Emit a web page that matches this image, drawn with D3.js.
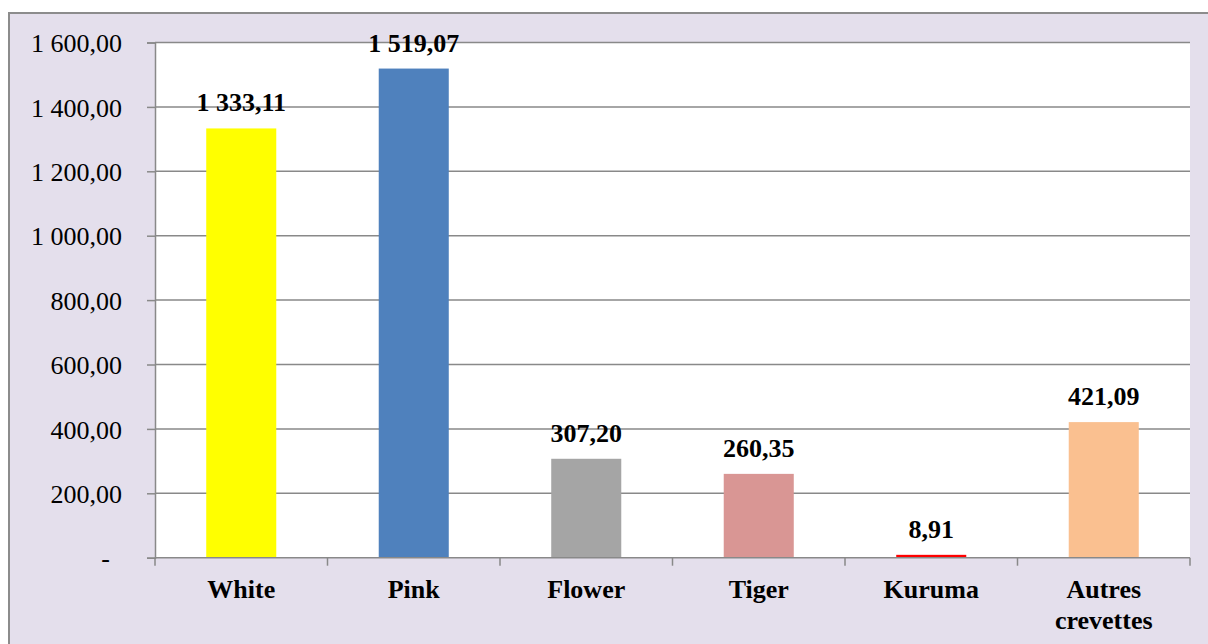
<!DOCTYPE html>
<html>
<head>
<meta charset="utf-8">
<script src="https://cdn.jsdelivr.net/npm/d3@7"></script>
<style>
  html, body { margin: 0; padding: 0; background: #ffffff; }
  svg { display: block; }
  text { font-family: "Liberation Serif", "Times New Roman", serif; fill: #000; }
</style>
</head>
<body>
<svg id="chart" width="1208" height="644"></svg>
<script>
// ---- data ----
const categories = ["White", "Pink", "Flower", "Tiger", "Kuruma", "Autres crevettes"];
const values = [1333.11, 1519.07, 307.20, 260.35, 8.91, 421.09];
const valueLabels = ["1 333,11", "1 519,07", "307,20", "260,35", "8,91", "421,09"];
const barColors = ["#FFFF00", "#4F81BD", "#A5A5A5", "#D99694", "#FF0000", "#FAC090"];
const yTicks = [0, 200, 400, 600, 800, 1000, 1200, 1400, 1600];
const yTickLabels = ["-", "200,00", "400,00", "600,00", "800,00", "1 000,00", "1 200,00", "1 400,00", "1 600,00"];

// ---- layout ----
const W = 1208, H = 644;
const plot = { left: 155, right: 1190, top: 42.5, bottom: 557.7 };
const gridColor = "#898989";

const svg = d3.select("#chart");

// outer frame
svg.append("rect")
  .attr("x", 9).attr("y", 13)
  .attr("width", W + 20).attr("height", H + 20)
  .attr("fill", "#E4DFEC")
  .attr("stroke", "#8C8C8C").attr("stroke-width", 2);

// plot area
svg.append("rect")
  .attr("x", plot.left).attr("y", plot.top)
  .attr("width", plot.right - plot.left).attr("height", plot.bottom - plot.top)
  .attr("fill", "#FFFFFF");

const x = d3.scaleBand()
  .domain(categories)
  .range([plot.left, plot.right])
  .paddingInner(0.594)
  .paddingOuter(0.297);

const y = d3.scaleLinear()
  .domain([0, 1600])
  .range([plot.bottom, plot.top]);

// gridlines
svg.append("g")
  .selectAll("line")
  .data(yTicks.filter(d => d > 0))
  .join("line")
  .attr("x1", plot.left).attr("x2", plot.right)
  .attr("y1", d => y(d)).attr("y2", d => y(d))
  .attr("stroke", gridColor).attr("stroke-width", 1.5);

// bars
const data = categories.map((c, i) => ({ c, v: values[i], label: valueLabels[i], color: barColors[i] }));
svg.append("g")
  .selectAll("rect")
  .data(data)
  .join("rect")
  .attr("x", d => x(d.c))
  .attr("y", d => y(d.v))
  .attr("width", x.bandwidth())
  .attr("height", d => y(0) - y(d.v))
  .attr("fill", d => d.color);

// y axis
const yAxis = d3.axisLeft(y)
  .tickValues(yTicks)
  .tickSize(8)
  .tickPadding(25)
  .tickFormat((d, i) => yTickLabels[i]);
const gy = svg.append("g")
  .attr("transform", `translate(${plot.left},0)`)
  .call(yAxis);
gy.select(".domain").attr("stroke", gridColor).attr("stroke-width", 1.5);
gy.selectAll(".tick line").attr("stroke", gridColor).attr("stroke-width", 1.5);
gy.selectAll(".tick text")
  .attr("font-family", "Liberation Serif, Times New Roman, serif")
  .attr("font-size", 26)
  .attr("fill", "#000")
  .attr("dy", "0.35em")
  .attr("dx", (d, i) => i === 0 ? -12 : 0);

// x axis line + boundary ticks
svg.append("line")
  .attr("x1", plot.left).attr("x2", plot.right)
  .attr("y1", plot.bottom).attr("y2", plot.bottom)
  .attr("stroke", gridColor).attr("stroke-width", 1.5);
const boundaries = categories.map(c => x(c) - x.step() * x.paddingInner() / 2).concat([plot.right]);
svg.append("g")
  .selectAll("line")
  .data(boundaries)
  .join("line")
  .attr("x1", d => d).attr("x2", d => d)
  .attr("y1", plot.bottom).attr("y2", plot.bottom + 8)
  .attr("stroke", gridColor).attr("stroke-width", 1.5);

// category labels
const catG = svg.append("g");
data.forEach(d => {
  const words = d.c === "Autres crevettes" ? ["Autres", "crevettes"] : [d.c];
  const t = catG.append("text")
    .attr("text-anchor", "middle")
    .attr("font-size", 26)
    .attr("font-weight", "bold");
  words.forEach((w, k) => {
    t.append("tspan")
      .attr("x", x(d.c) + x.bandwidth() / 2)
      .attr("y", 598 + k * 31)
      .text(w);
  });
});

// value labels
svg.append("g")
  .selectAll("text")
  .data(data)
  .join("text")
  .attr("x", d => x(d.c) + x.bandwidth() / 2)
  .attr("y", d => y(d.v) - 17)
  .attr("text-anchor", "middle")
  .attr("font-size", 26)
  .attr("font-weight", "bold")
  .text(d => d.label);
</script>
</body>
</html>
